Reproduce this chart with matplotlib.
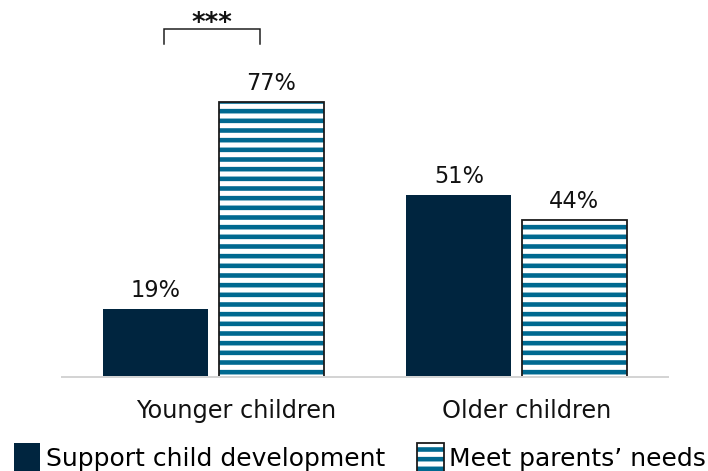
import matplotlib
matplotlib.use("Agg")
import matplotlib.pyplot as plt
from matplotlib.patches import Patch
from matplotlib.legend_handler import HandlerTuple
import numpy as np

categories = ["Younger children", "Older children"]
series_names = ["Support child development", "Meet parents’ needs"]
support_dev = [19, 51]
meet_parents = [77, 44]
value_labels_support = ["19%", "51%"]
value_labels_meet = ["77%", "44%"]

DPI = 58
W, H = 708, 472
PT = 72.0 / DPI  # points per pixel

navy = "#00253f"
blue = "#006990"
edge = "#1a1a1a"

plt.rcParams["font.family"] = ["DejaVu Sans"]
plt.rcParams["hatch.linewidth"] = 4.6 * PT

fig = plt.figure(figsize=(W / DPI, H / DPI), dpi=DPI)
ax = fig.add_axes([62 / W, (H - 378) / H, (668 - 62) / W, 378 / H])

x = np.arange(len(categories))
off = 0.19
bw = 0.3465

ax.bar(x - off, support_dev, bw, color=navy, edgecolor="none", zorder=2)
# hatched fill (hatch colour follows edgecolor)
ax.bar(x + off, meet_parents, bw, facecolor="white", edgecolor=blue,
       linewidth=0, hatch="-", zorder=2)
# outline
ax.bar(x + off, meet_parents, bw, fill=False, edgecolor=edge,
       linewidth=1.8 * PT, zorder=2.5)

fs_val = 22.5 * PT
for xi, v, lab in zip(x - off, support_dev, value_labels_support):
    ax.annotate(lab, (xi, v), xytext=(0, 8 * PT), textcoords="offset points",
                ha="center", va="bottom", fontsize=fs_val, color="#111111")
for xi, v, lab in zip(x + off, meet_parents, value_labels_meet):
    ax.annotate(lab, (xi, v), xytext=(0, 8 * PT), textcoords="offset points",
                ha="center", va="bottom", fontsize=fs_val, color="#111111")

ax.set_xlim(-0.5, 1.5)
ax.set_ylim(0, 105.85)
for s in ["top", "right", "left"]:
    ax.spines[s].set_visible(False)
ax.spines["bottom"].set_color("#d4d4d4")
ax.spines["bottom"].set_linewidth(2 * PT)
ax.spines["bottom"].set_zorder(3)
ax.set_yticks([])
ax.set_xticks([])

label_shift = [0.076, 0.035]
fs_cat = 24 * PT
for xi, c, sh in zip(x, categories, label_shift):
    ax.text(xi + sh, -9.3, c, ha="center", va="center", fontsize=fs_cat, color="#111111")

# significance bracket
bx0, bx1 = -0.165, 0.155
ytop, ybot = 97.45, 93.25
ax.plot([bx0, bx0, bx1, bx1], [ybot, ytop, ytop, ybot], color="#1a1a1a",
        lw=1.5 * PT, clip_on=False, solid_joinstyle="miter")
ax.text((bx0 + bx1) / 2, 97.2, "***", ha="center", va="baseline",
        fontsize=26 * PT, fontweight="bold", color="#111111")

h_fill = Patch(facecolor="white", edgecolor=blue, hatch="-", linewidth=0)
h_edge = Patch(fill=False, edgecolor=edge, linewidth=1.8 * PT)
handles = [Patch(facecolor=navy, edgecolor="none"), (h_fill, h_edge)]
fs_leg = 25 * PT
fig.legend(handles=handles, labels=series_names, loc="lower left",
           bbox_to_anchor=(-4 / W, -18 / H),
           ncol=2, frameon=False, fontsize=fs_leg, handlelength=1.06,
           handleheight=1.4, handletextpad=0.22, columnspacing=1.3,
           borderpad=0.2, handler_map={tuple: HandlerTuple(ndivide=1, pad=0)})

fig.savefig("out.png", dpi=DPI)
